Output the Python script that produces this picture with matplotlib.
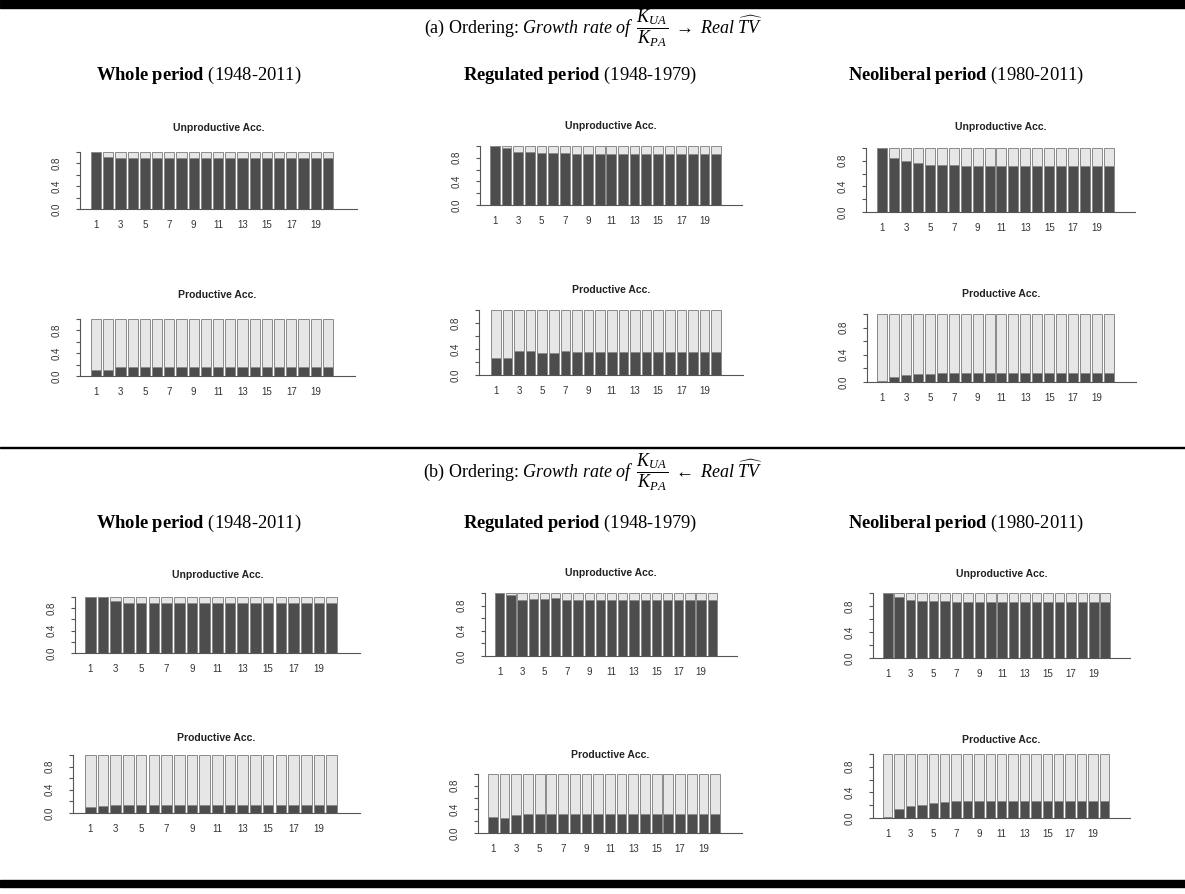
import numpy as np
import matplotlib.pyplot as plt
from matplotlib.patches import Rectangle

plt.rcParams['font.family'] = ['Liberation Sans', 'DejaVu Sans']
plt.rcParams['mathtext.fontset'] = 'custom'
plt.rcParams['mathtext.rm'] = 'Liberation Serif'
plt.rcParams['mathtext.it'] = 'Liberation Serif:italic'
plt.rcParams['mathtext.bf'] = 'Liberation Serif:bold'

W, H = 1185, 894
DARK = '#4d4d4d'
LIGHT = '#e6e6e6'
EDGE = '#8a8a8a'
AXC = '#555555'

horizons = list(range(1, 21))

# share of the dark block in each horizon (variance decomposition)
# (a) ordering: growth rate of K_UA/K_PA -> real TV
a_whole_unprod = [1.00, 0.915, 0.90, 0.90, 0.90, 0.90, 0.90, 0.90, 0.90, 0.90,
                  0.90, 0.90, 0.90, 0.90, 0.90, 0.90, 0.90, 0.90, 0.90, 0.90]
a_whole_prod = [0.10, 0.10, 0.16, 0.16, 0.16, 0.16, 0.16, 0.16, 0.16, 0.16,
                0.16, 0.16, 0.16, 0.16, 0.16, 0.16, 0.16, 0.16, 0.16, 0.16]
a_reg_unprod = [1.00, 0.97, 0.90, 0.89, 0.875, 0.875, 0.875, 0.87, 0.87, 0.87,
                0.87, 0.87, 0.87, 0.87, 0.87, 0.87, 0.87, 0.87, 0.87, 0.87]
a_reg_prod = [0.26, 0.26, 0.37, 0.365, 0.34, 0.34, 0.365, 0.35, 0.35, 0.35,
              0.35, 0.35, 0.35, 0.35, 0.35, 0.35, 0.35, 0.35, 0.35, 0.35]
a_neo_unprod = [1.00, 0.85, 0.79, 0.76, 0.74, 0.73, 0.73, 0.716, 0.716, 0.716,
                0.716, 0.716, 0.716, 0.716, 0.716, 0.716, 0.716, 0.716, 0.716, 0.716]
a_neo_prod = [0.02, 0.07, 0.10, 0.113, 0.118, 0.13, 0.13, 0.13, 0.13, 0.13,
              0.13, 0.13, 0.13, 0.13, 0.13, 0.13, 0.13, 0.13, 0.13, 0.13]

# (b) ordering: growth rate of K_UA/K_PA <- real TV
b_whole_unprod = [1.00, 1.00, 0.93, 0.90, 0.90, 0.90, 0.90, 0.90, 0.90, 0.90,
                  0.90, 0.90, 0.90, 0.90, 0.90, 0.90, 0.90, 0.90, 0.90, 0.90]
b_whole_prod = [0.10, 0.12, 0.143, 0.143, 0.143, 0.143, 0.143, 0.143, 0.143, 0.143,
                0.143, 0.143, 0.143, 0.143, 0.143, 0.143, 0.143, 0.143, 0.143, 0.143]
b_reg_unprod = [1.00, 0.97, 0.894, 0.905, 0.91, 0.915, 0.894, 0.894, 0.894, 0.894,
                0.894, 0.894, 0.894, 0.894, 0.894, 0.894, 0.894, 0.894, 0.894, 0.894]
b_reg_prod = [0.27, 0.25, 0.31, 0.33, 0.33, 0.32, 0.32, 0.33, 0.33, 0.33,
              0.33, 0.33, 0.33, 0.33, 0.33, 0.33, 0.33, 0.33, 0.33, 0.33]
b_neo_unprod = [1.00, 0.933, 0.897, 0.88, 0.87, 0.87, 0.867, 0.867, 0.867, 0.867,
                0.867, 0.867, 0.867, 0.867, 0.867, 0.867, 0.867, 0.867, 0.867, 0.867]
b_neo_prod = [0.01, 0.14, 0.19, 0.21, 0.23, 0.244, 0.26, 0.26, 0.26, 0.26,
              0.26, 0.26, 0.26, 0.26, 0.26, 0.26, 0.26, 0.26, 0.26, 0.26]

# pixel layout: y-axis x, first bar left, last bar right, axis end, top(1.0), bottom(0), title y
panels = [
    (a_whole_unprod, 'Unproductive Acc.', (80, 91, 333, 357, 152, 209, 128)),
    (a_reg_unprod, 'Unproductive Acc.', (480, 490, 721, 742, 146, 205, 126)),
    (a_neo_unprod, 'Unproductive Acc.', (866, 877, 1114, 1135, 148, 212, 127)),
    (a_whole_prod, 'Productive Acc.', (80, 91, 333, 355, 319, 376, 295)),
    (a_reg_prod, 'Productive Acc.', (479, 491, 721, 743, 310, 375, 290)),
    (a_neo_prod, 'Productive Acc.', (867, 877, 1114, 1136, 314, 382, 294)),
    (b_whole_unprod, 'Unproductive Acc.', (75, 85, 337, 360, 597, 653, 575)),
    (b_reg_unprod, 'Unproductive Acc.', (485, 495, 717, 737, 593, 656, 573)),
    (b_neo_unprod, 'Unproductive Acc.', (873, 883, 1110, 1130, 593, 658, 574)),
    (b_whole_prod, 'Productive Acc.', (73, 85, 337, 360, 755, 813, 738)),
    (b_reg_prod, 'Productive Acc.', (478, 488, 720, 742, 774, 833, 755)),
    (b_neo_prod, 'Productive Acc.', (873, 883, 1109, 1130, 754, 818, 740)),
]

fig = plt.figure(figsize=(W / 100, H / 100), dpi=100)

# R barplot positions (width 1, space 0.2)
centers = 0.7 + 1.2 * np.arange(len(horizons))

for vals, title, (x0, bl, br, x1, y0, y1, ty) in panels:
    ax = fig.add_axes([x0 / W, 1 - y1 / H, (x1 - x0) / W, (y1 - y0) / H])
    dark = np.array(vals)
    ax.bar(centers, dark, width=1, color=DARK, edgecolor=EDGE, linewidth=0.7)
    ax.bar(centers, 1 - dark, bottom=dark, width=1, color=LIGHT,
           edgecolor=EDGE, linewidth=0.7)
    s = (br - bl) / 23.8
    ax.set_xlim(0.2 - (bl - x0) / s, 24.0 + (x1 - br) / s)
    ax.set_ylim(0, 1)
    for sp in ['top', 'right']:
        ax.spines[sp].set_visible(False)
    ax.spines['left'].set_color(AXC)
    ax.spines['bottom'].set_color(AXC)
    ax.spines['left'].set_linewidth(0.8)
    ax.spines['bottom'].set_linewidth(0.8)
    ax.set_xticks(centers[::2])
    ax.set_xticklabels([str(h) for h in horizons[::2]], fontsize=7, color='#333333')
    ax.tick_params(axis='x', length=0, pad=8)
    ax.set_yticks([0, 0.2, 0.4, 0.6, 0.8, 1.0])
    ax.set_yticklabels(['0.0', '', '0.4', '', '0.8', ''], fontsize=7,
                       color='#333333', rotation=90, va='center')
    ax.tick_params(axis='y', length=3, width=0.8, color=AXC, pad=10)
    fig.text((x0 + x1) / 2 / W, 1 - ty / H, title, ha='center', va='center',
             fontsize=7.5, fontweight='bold', color='#222222')

# section titles
serif = ['Liberation Serif', 'DejaVu Serif']
fig.text(593 / W, 1 - 34 / H,
         r'(a) Ordering: $\mathit{Growth\ rate\ of}\;\; \dfrac{K_{UA}}{K_{PA}}\ \mathbf{\rightarrow}\ \mathit{Real}\ \widehat{TV}$',
         ha='center', va='baseline', fontsize=13, family=serif)
fig.text(593 / W, 1 - 478 / H,
         r'(b) Ordering: $\mathit{Growth\ rate\ of}\;\; \dfrac{K_{UA}}{K_{PA}}\ \mathbf{\leftarrow}\ \mathit{Real}\ \widehat{TV}$',
         ha='center', va='baseline', fontsize=13, family=serif)

headers = [r'$\mathbf{Whole\ period}$ (1948-2011)',
           r'$\mathbf{Regulated\ period}$ (1948-1979)',
           r'$\mathbf{Neoliberal\ period}$ (1980-2011)']
header_x = [199, 580, 966]
for hy in [75, 523]:
    for hx, txt in zip(header_x, headers):
        fig.text(hx / W, 1 - hy / H, txt, ha='center', va='center',
                 fontsize=13.3, family=serif)

# rule lines
def rule(y_top, y_bot):
    fig.patches.append(Rectangle((0, 1 - y_bot / H), 1, (y_bot - y_top) / H,
                                 transform=fig.transFigure, color='black'))

rule(0, 4)
rule(5.5, 7.5)
rule(446.5, 448)
rule(880, 887)

fig.savefig('out.png', dpi=100)
